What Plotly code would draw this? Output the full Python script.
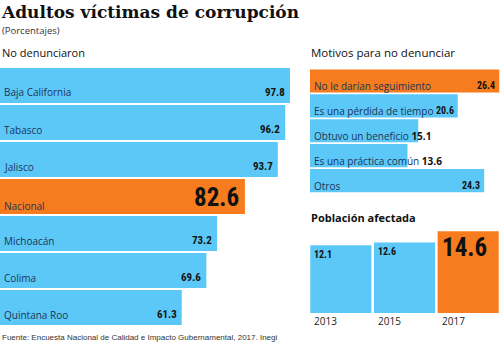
import plotly.graph_objects as go

# ---- data ----
estados = ["Baja California", "Tabasco", "Jalisco", "Nacional", "Michoacán", "Colima", "Quintana Roo"]
no_denunciaron = [97.8, 96.2, 93.7, 82.6, 73.2, 69.6, 61.3]

motivos = ["No le darían seguimiento", "Es una pérdida de tiempo", "Obtuvo un beneficio",
           "Es una práctica común", "Otros"]
motivos_val = [26.4, 20.6, 15.1, 13.6, 24.3]

anios = ["2013", "2015", "2017"]
poblacion = [12.1, 12.6, 14.6]

BLUE = "#5bc8f8"
ORANGE = "#f67c1f"
NAVY = "#1b3558"
COND = "Roboto Condensed, DejaVu Sans Condensed, Liberation Sans Narrow, Roboto, Arial, sans-serif"
SANS2 = "Open Sans, Roboto, Arial, sans-serif"
SANS = "Liberation Sans, Arial, sans-serif"

W, H = 500, 348
def py(p):  # pixel y -> paper
    return 1 - p / H
def px(p):
    return p / W

fig = go.Figure()

fig.add_trace(go.Bar(
    x=no_denunciaron, y=estados, orientation="h", width=0.95,
    marker=dict(color=[ORANGE if e == "Nacional" else BLUE for e in estados], line=dict(width=0)),
    xaxis="x", yaxis="y", hoverinfo="skip", showlegend=False))

fig.add_trace(go.Bar(
    x=motivos_val, y=motivos, orientation="h", width=0.93,
    marker=dict(color=[ORANGE if i == 0 else BLUE for i in range(len(motivos))], line=dict(width=0)),
    xaxis="x2", yaxis="y2", hoverinfo="skip", showlegend=False))

pos = list(range(len(anios)))
fig.add_trace(go.Bar(
    x=pos, y=poblacion, width=0.96, orientation="v",
    marker=dict(color=[ORANGE if a == "2017" else BLUE for a in anios], line=dict(width=0)),
    xaxis="x3", yaxis="y3", hoverinfo="skip", showlegend=False))

ann = []
for e, v in zip(estados, no_denunciaron):
    nac = e == "Nacional"
    ann.append(dict(x=0, y=e, xref="x", yref="y", text=e, showarrow=False,
                    xanchor="left", yanchor="middle", xshift=2, yshift=-9 if nac else -7,
                    font=dict(family=SANS2, size=10, color=NAVY)))
    if nac:
        ann.append(dict(x=v, y=e, xref="x", yref="y", text=f"<b>{v}</b>", showarrow=False,
                        xanchor="right", yanchor="middle", xshift=-4, yshift=-1,
                        font=dict(family=COND, size=25, color="#111")))
    else:
        ann.append(dict(x=v, y=e, xref="x", yref="y", text=f"<b>{v}</b>", showarrow=False,
                        xanchor="right", yanchor="middle", xshift=-3, yshift=-7,
                        font=dict(family=COND, size=11, color="#111")))

for m, v in zip(motivos, motivos_val):
    if v < 16:
        ann.append(dict(x=0, y=m, xref="x2", yref="y2",
                        text=f"{m} <b><span style='color:#111'>{v}</span></b>", showarrow=False,
                        xanchor="left", yanchor="middle", xshift=2, yshift=-5,
                        font=dict(family=SANS2, size=10, color=NAVY)))
    else:
        ann.append(dict(x=0, y=m, xref="x2", yref="y2", text=m, showarrow=False,
                        xanchor="left", yanchor="middle", xshift=2, yshift=-5,
                        font=dict(family=SANS2, size=10, color=NAVY)))
        ann.append(dict(x=v, y=m, xref="x2", yref="y2", text=f"<b>{v}</b>", showarrow=False,
                        xanchor="right", yanchor="middle", xshift=-2, yshift=-5,
                        font=dict(family=COND, size=10, color="#111")))

for p, a, v in zip(pos, anios, poblacion):
    big = a == "2017"
    ann.append(dict(x=p - 0.48, y=v, xref="x3", yref="y3", text=f"<b>{v}</b>", showarrow=False,
                    xanchor="left", yanchor="top", xshift=2, yshift=0 if big else -2,
                    font=dict(family=COND, size=25 if big else 10, color="#111")))
    ann.append(dict(x=p - 0.48, y=0, xref="x3", yref="y3", text=a, showarrow=False,
                    xanchor="left", yanchor="top", xshift=2, yshift=1,
                    font=dict(family=SANS2, size=10, color="#222")))

ann += [
    dict(x=0, y=py(0), xref="paper", yref="paper", text="<b>Adultos víctimas de corrupción</b>",
         showarrow=False, xanchor="left", yanchor="top", xshift=-1,
         font=dict(family="DejaVu Serif, serif", size=17, color="#111")),
    dict(x=0, y=py(22), xref="paper", yref="paper", text="(Porcentajes)",
         showarrow=False, xanchor="left", yanchor="top",
         font=dict(family=SANS2, size=9.5, color="#333")),
    dict(x=0, y=py(43), xref="paper", yref="paper", text="No denunciaron",
         showarrow=False, xanchor="left", yanchor="top",
         font=dict(family=SANS2, size=11, color="#111")),
    dict(x=px(309), y=py(43), xref="paper", yref="paper", text="Motivos para no denunciar",
         showarrow=False, xanchor="left", yanchor="top",
         font=dict(family=SANS2, size=11.5, color="#111")),
    dict(x=px(309), y=py(208), xref="paper", yref="paper", text="<b>Población afectada</b>",
         showarrow=False, xanchor="left", yanchor="top",
         font=dict(family=SANS2, size=11, color="#111")),
    dict(x=0, y=py(331), xref="paper", yref="paper",
         text="Fuente: Encuesta Nacional de Calidad e Impacto Gubernamental, 2017. Inegi",
         showarrow=False, xanchor="left", yanchor="top",
         font=dict(family=SANS, size=8, color="#333")),
]

noax = dict(showgrid=False, zeroline=False, showticklabels=False, showline=False, ticks="", fixedrange=True)

fig.update_layout(
    width=W, height=H, margin=dict(l=0, r=0, t=0, b=0),
    paper_bgcolor="white", plot_bgcolor="white",
    xaxis=dict(domain=[0, px(300)], range=[0, 300 / 2.965], **noax),
    yaxis=dict(domain=[py(326), py(67)], autorange="reversed", anchor="x", type="category", **noax),
    xaxis2=dict(domain=[px(310), 1.0], range=[0, 190 / 7.17], anchor="y2", **noax),
    yaxis2=dict(domain=[py(193), py(67)], autorange="reversed", anchor="x2", type="category", **noax),
    xaxis3=dict(domain=[px(309), 1.0], range=[-0.5, len(anios) - 0.5], anchor="y3", type="linear", **noax),
    yaxis3=dict(domain=[py(313), py(229)], range=[0, 15], anchor="x3", type="linear", **noax),
    annotations=ann,
)

fig.write_html("out.html")
